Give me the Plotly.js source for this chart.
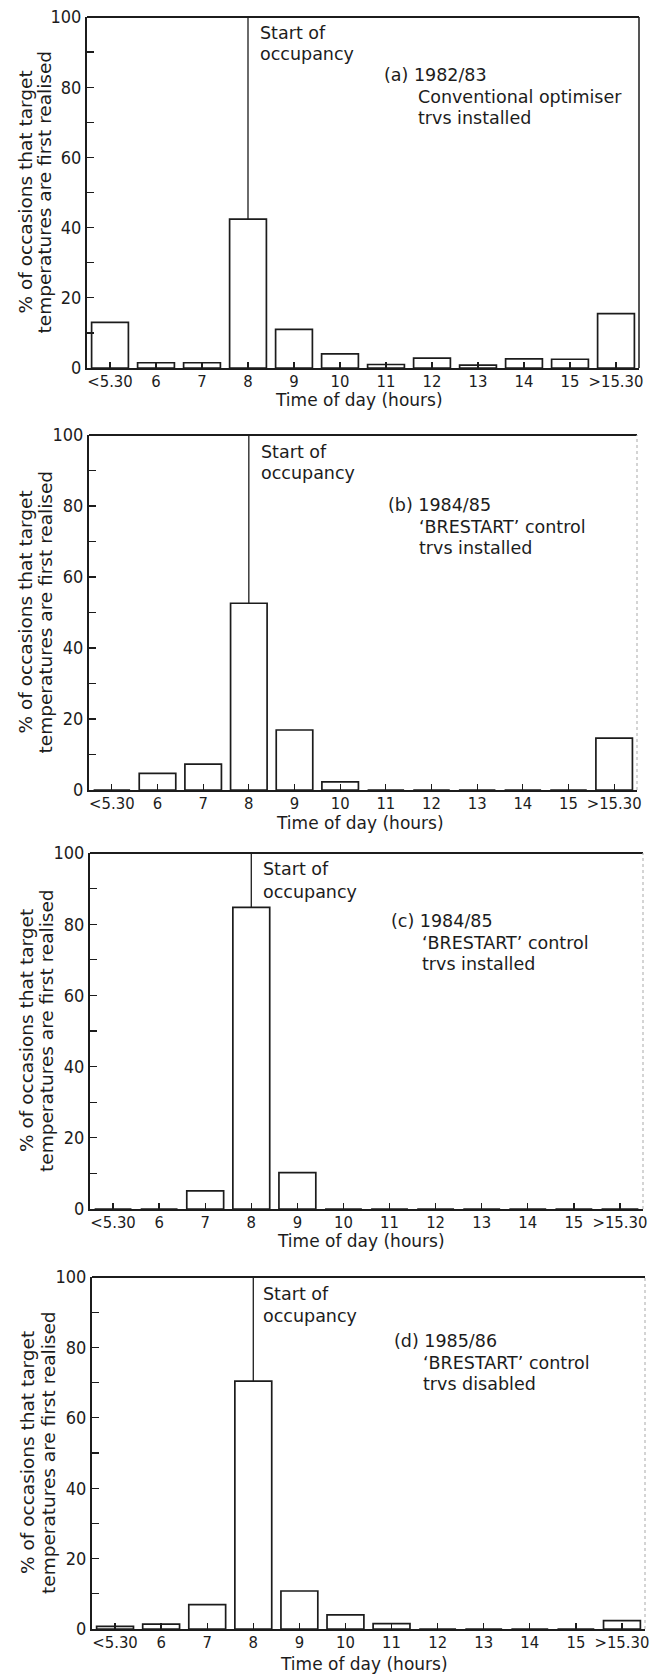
<!DOCTYPE html>
<html>
<head>
<meta charset="utf-8">
<script src="https://cdn.plot.ly/plotly-3.0.1.min.js"></script>
<style>
html,body{margin:0;padding:0;background:#fff;}
#chart{width:651px;height:1675px;}
</style>
</head>
<body>
<div id="chart"></div>
<script>
// ---- data ----
const categories = ['<5.30','6','7','8','9','10','11','12','13','14','15','>15.30'];
const pctA = [13, 1.5, 1.5, 42.4, 11, 4, 1, 2.8, 0.8, 2.6, 2.5, 15.5];
const pctB = [0, 4.7, 7.3, 52.6, 16.9, 2.3, 0, 0, 0, 0, 0, 14.6];
const pctC = [0, 0, 5.1, 84.7, 10.2, 0, 0, 0, 0, 0, 0, 0];
const pctD = [0.75, 1.4, 6.9, 70.4, 10.8, 4.0, 1.5, 0, 0, 0, 0, 2.4];
const occupancyStart = '8';
const yTickVals = [0,10,20,30,40,50,60,70,80,90,100];
const yTickText = ['0','','20','','40','','60','','80','','100'];
const labelA = ['(a) 1982/83', 'Conventional optimiser', 'trvs installed'];
const labelB = ['(b) 1984/85', '\u2018BRESTART\u2019 control', 'trvs installed'];
const labelC = ['(c) 1984/85', '\u2018BRESTART\u2019 control', 'trvs installed'];
const labelD = ['(d) 1985/86', '\u2018BRESTART\u2019 control', 'trvs disabled'];
const occupancyText = ['Start of', 'occupancy'];
const yTitle = ['% of occasions that target', 'temperatures are first realised'];
const xTitle = 'Time of day (hours)';

// ---- layout geometry (pixels in the 651x1675 page) ----
const W = 651, H = 1675;
const panels = [
  {vals: pctA, label: labelA, l: 87, r: 639, t: 17,   b: 368,  lab: [382, 416], labY: [58, 80, 101], occY: [16, 37], occX: 258, yt: [25, 44], xtX: 359, xtY: 400, rightSolid: true},
  {vals: pctB, label: labelB, l: 89, r: 637, t: 435,  b: 790,  lab: [386, 417], labY: [70, 92, 113], occY: [17, 38], occX: 259, yt: [25, 45], xtX: 360, xtY: 823, rightSolid: false},
  {vals: pctC, label: labelC, l: 90, r: 643, t: 853,  b: 1209, lab: [389, 420], labY: [68, 90, 111], occY: [16, 39], occX: 261, yt: [26, 46], xtX: 361, xtY: 1241, rightSolid: false},
  {vals: pctD, label: labelD, l: 92, r: 645, t: 1277, b: 1629, lab: [392, 421], labY: [64, 86, 107], occY: [17, 39], occX: 261, yt: [27, 48], xtX: 364, xtY: 1664, rightSolid: false}
];

const INK = '#1c1c1c';
const FONT = 'DejaVu Sans, Arial, sans-serif';
const FONTC = 'DejaVu Sans Condensed, DejaVu Sans, Arial, sans-serif';
const px = x => x / W;
const py = y => 1 - y / H;

const data = [];
const layout = {
  width: W, height: H,
  margin: {l: 0, r: 0, t: 0, b: 0},
  paper_bgcolor: '#ffffff',
  plot_bgcolor: '#ffffff',
  showlegend: false,
  bargap: 0.2,
  annotations: [],
  shapes: []
};

panels.forEach((p, i) => {
  const n = i === 0 ? '' : String(i + 1);
  const xa = 'x' + n, ya = 'y' + n;
  data.push({
    type: 'bar',
    x: categories,
    y: p.vals,
    xaxis: xa, yaxis: ya,
    marker: {color: '#ffffff', line: {color: INK, width: 1.7}},
    hoverinfo: 'x+y'
  });
  layout['xaxis' + n] = {
    domain: [px(p.l), px(p.r)],
    anchor: ya,
    type: 'category',
    categoryorder: 'array',
    categoryarray: categories,
    range: [-0.5, 11.5],
    showline: true, linecolor: INK, linewidth: 2,
    ticks: 'inside', ticklen: 6, tickwidth: 1.3, tickcolor: INK,
    ticklabelstandoff: -3,
    showgrid: false, zeroline: false,
    tickfont: {family: FONTC, size: 16.5, color: INK},
    fixedrange: true
  };
  layout['yaxis' + n] = {
    domain: [py(p.b), py(p.t)],
    anchor: xa,
    range: [0, 100],
    tickmode: 'array',
    tickvals: yTickVals,
    ticktext: yTickText,
    showline: true, linecolor: INK, linewidth: 2,
    ticks: 'inside', ticklen: 7, tickwidth: 1.3, tickcolor: INK,
    showgrid: false, zeroline: false,
    tickfont: {family: FONTC, size: 18, color: INK},
    fixedrange: true
  };
  // top frame line
  layout.shapes.push({type: 'line', xref: xa + ' domain', yref: ya + ' domain',
    x0: 0, x1: 1, y0: 1, y1: 1, line: {color: INK, width: 1.8}});
  // right frame line
  layout.shapes.push({type: 'line', xref: xa + ' domain', yref: ya + ' domain',
    x0: 1, x1: 1, y0: 0, y1: 1,
    line: p.rightSolid ? {color: INK, width: 1.5} : {color: '#b8b8b8', width: 1.2, dash: 'dot'}});
  // start of occupancy line, from the bar top to the top of the plot
  const occIdx = categories.indexOf(occupancyStart);
  layout.shapes.push({type: 'line', xref: xa, yref: ya,
    x0: occIdx, x1: occIdx, y0: p.vals[occIdx], y1: 100,
    line: {color: INK, width: 1.3}});

  // occupancy text
  occupancyText.forEach((t, k) => {
    layout.annotations.push({text: t, xref: 'paper', yref: 'paper',
      x: px(p.occX), y: py(p.t + p.occY[k]), xanchor: 'left', yanchor: 'middle',
      showarrow: false, font: {family: FONT, size: 17.5, color: INK}});
  });
  // panel label lines
  p.label.forEach((t, k) => {
    layout.annotations.push({text: t, xref: 'paper', yref: 'paper',
      x: px(k === 0 ? p.lab[0] : p.lab[1]), y: py(p.t + p.labY[k]),
      xanchor: 'left', yanchor: 'middle',
      showarrow: false, font: {family: FONT, size: 17.5, color: INK}});
  });
  // y-axis title (two lines)
  yTitle.forEach((t, k) => {
    layout.annotations.push({text: t, xref: 'paper', yref: 'paper',
      x: px(p.yt[k]), y: py((p.t + p.b) / 2), xanchor: 'center', yanchor: 'middle',
      textangle: -90, showarrow: false, font: {family: FONT, size: 18.5, color: INK}});
  });
  // x-axis title
  layout.annotations.push({text: xTitle, xref: 'paper', yref: 'paper',
    x: px(p.xtX), y: py(p.xtY), xanchor: 'center', yanchor: 'middle',
    showarrow: false, font: {family: FONT, size: 17, color: INK}});
});

Plotly.newPlot('chart', data, layout, {staticPlot: true, displayModeBar: false});
</script>
</body>
</html>
